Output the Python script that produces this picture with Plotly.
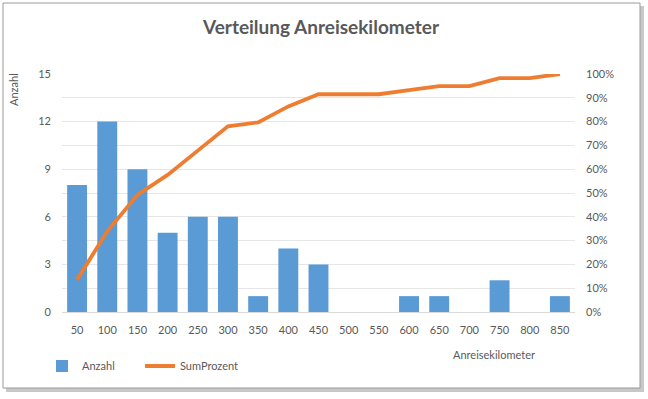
import plotly.graph_objects as go

km = ["50", "100", "150", "200", "250", "300", "350", "400", "450", "500",
      "550", "600", "650", "700", "750", "800", "850"]
anzahl = [8, 12, 9, 5, 6, 6, 1, 4, 3, 0, 0, 1, 1, 0, 2, 0, 1]
sum_prozent = [0.136, 0.339, 0.492, 0.576, 0.678, 0.780, 0.797, 0.864, 0.915,
               0.915, 0.915, 0.932, 0.949, 0.949, 0.983, 0.983, 1.000]
left_ticks = [0, 3, 6, 9, 12, 15]
right_ticks = [0, 0.1, 0.2, 0.3, 0.4, 0.5, 0.6, 0.7, 0.8, 0.9, 1.0]

FONT = "Lato"
GRAY = "#595959"

W, H = 648, 399
L, R, T, B = 62, 575, 74, 312


def px(x):
    return (x - L) / (R - L)


def py(y):
    return (B - y) / (B - T)


fig = go.Figure()
fig.add_trace(go.Bar(
    x=km, y=anzahl, name="Anzahl",
    marker=dict(color="#5B9BD5", line=dict(width=0)),
    yaxis="y",
))
fig.add_trace(go.Scatter(
    x=km, y=sum_prozent, name="SumProzent", mode="lines",
    line=dict(color="#ED7D31", width=3.8, shape="linear"),
    yaxis="y2",
))

shapes = [
    # shadow
    dict(type="rect", xref="paper", yref="paper", layer="below",
         x0=px(6), x1=px(644), y0=py(392), y1=py(6),
         fillcolor="#C8C8C8", line=dict(width=0)),
    # frame
    dict(type="rect", xref="paper", yref="paper", layer="below",
         x0=px(3), x1=px(640), y0=py(388), y1=py(3),
         fillcolor="white", line=dict(color="#9A9A9A", width=1)),
]

annotations = [
    dict(text="Anzahl", xref="paper", yref="paper", x=px(13), y=py(90),
         textangle=-90, showarrow=False, xanchor="center", yanchor="middle",
         font=dict(family=FONT, size=11, color=GRAY)),
    dict(text="Anreisekilometer", xref="paper", yref="paper", x=px(494), y=py(354),
         showarrow=False, xanchor="center", yanchor="middle",
         font=dict(family=FONT, size=11, color=GRAY)),
]

fig.update_layout(
    width=W, height=H,
    margin=dict(l=L, r=W - R, t=T, b=H - B, pad=0, autoexpand=False),
    paper_bgcolor="white", plot_bgcolor="rgba(0,0,0,0)",
    font=dict(family=FONT, size=11, color=GRAY),
    title=dict(text="<b>Verteilung Anreisekilometer</b>", x=321 / W, xanchor="center",
               y=1 - 27 / H, yanchor="middle",
               font=dict(family=FONT, size=19, color=GRAY)),
    bargap=0.34,
    xaxis=dict(type="category", showgrid=False, showline=True, linecolor="#D9D9D9",
               linewidth=1, ticks="", tickfont=dict(family=FONT, size=11, color=GRAY),
               ticklabelstandoff=8, fixedrange=True),
    yaxis=dict(range=[0, 15], tickvals=left_ticks, showgrid=True, gridcolor="#D9D9D9",
               zeroline=False, showline=False, ticks="",
               tickfont=dict(family=FONT, size=11, color=GRAY), ticklabelstandoff=10),
    yaxis2=dict(range=[0, 1], tickvals=right_ticks, tickformat=".0%", overlaying="y",
                side="right", showgrid=True, gridcolor="#E6E6E6", zeroline=False,
                showline=False, ticks="",
                tickfont=dict(family=FONT, size=11, color=GRAY), ticklabelstandoff=10),
    legend=dict(orientation="h", x=px(42), xanchor="left", y=py(366), yanchor="middle",
                font=dict(family=FONT, size=11, color=GRAY),
                entrywidth=53, entrywidthmode="pixels", itemwidth=30,
                bgcolor="rgba(0,0,0,0)"),
    shapes=shapes,
    annotations=annotations,
)

fig.write_html("out.html", config={"displayModeBar": False},
               post_script="document.body.style.margin='0px';")
